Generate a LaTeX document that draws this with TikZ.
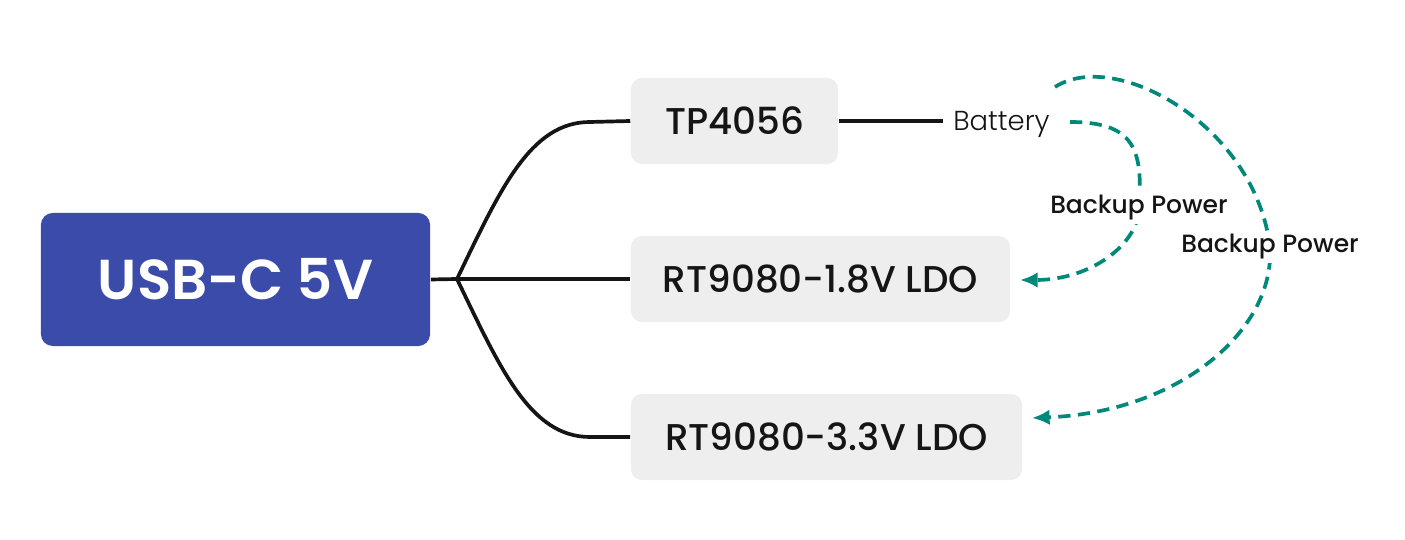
\documentclass[tikz,border=0pt]{standalone}
\usepackage{fontspec}
\setmainfont{Poppins}
\newfontfamily\medfont{Poppins Medium}
\newfontfamily\semifont{Poppins SemiBold}
\newfontfamily\lightfont{Poppins Light}
\usetikzlibrary{arrows.meta,positioning}
\definecolor{usbblue}{HTML}{3B4BAA}
\definecolor{boxgray}{HTML}{EEEEEE}
\definecolor{backupgreen}{HTML}{00897B}
\definecolor{ink}{HTML}{151515}

\begin{document}
\begin{tikzpicture}[x=0.01cm,y=-0.01cm]
    \tikzset{vertex/.style = {shape=rectangle,fill=boxgray,rounded corners=0.11cm,minimum height=0.86cm,text=ink,font=\medfont\fontsize{10.6}{12}\selectfont}}
    \tikzset{source/.style = {shape=rectangle,fill=usbblue,rounded corners=0.12cm,minimum width=3.89cm,minimum height=1.33cm,text=white,font=\semifont\fontsize{16}{19}\selectfont}}
    \tikzset{edge/.style = {line width=1.05pt,draw=ink}}
    \tikzset{backup/.style = {-{Latex[length=5pt,width=4.4pt]},line width=1.05pt,draw=backupgreen,dash pattern=on 3.5pt off 2.1pt}}
    \tikzset{backuplabel/.style = {fill=white,inner sep=1pt,text=ink,font=\medfont\fontsize{7.1}{9}\selectfont}}
    \useasboundingbox (0,0) rectangle (1405,540);
    % vertices
    \node[source] (0) at (235.5,279.5) {USB-C 5V};
    \node[vertex,minimum width=2.07cm] (1) at (734.5,121) {TP4056};
    \node[vertex,minimum width=3.79cm] (2) at (820.5,279) {RT9080-1.8V LDO};
    \node[vertex,minimum width=3.91cm] (3) at (826.5,437) {RT9080-3.3V LDO};
    \node[text=ink,inner sep=0.1cm,font=\lightfont\fontsize{7.8}{10}\selectfont] (4) at (1001.5,124) {Battery};
    \coordinate (j) at (457,279);
    \coordinate (5) at (1070,122);
    \coordinate (6) at (1055,87);
    \coordinate (7) at (1020,280);
    \coordinate (8) at (1032,418);
    % tree
    \draw[edge] (0.east) -- (j);
    \draw[edge] (j) -- (2.west);
    \draw[edge] (j) .. controls (500,190) and (530,122) .. (590,122) -- (1.west);
    \draw[edge] (j) .. controls (500,368) and (530,437) .. (590,437) -- (3.west);
    \draw[edge] (1.east) -- (1.east -| 4.west);
    % backup paths
    \draw[backup] (5) .. controls (1135,122) and (1143,150) .. (1139,208)
        node[backuplabel] {Backup Power}
        .. controls (1138,245) and (1090,280) .. (7);
    \draw[backup] (6) .. controls (1115,48) and (1255,125) .. (1270,247)
        node[backuplabel] {Backup Power}
        .. controls (1275,330) and (1180,412) .. (8);
\end{tikzpicture}
\end{document}
